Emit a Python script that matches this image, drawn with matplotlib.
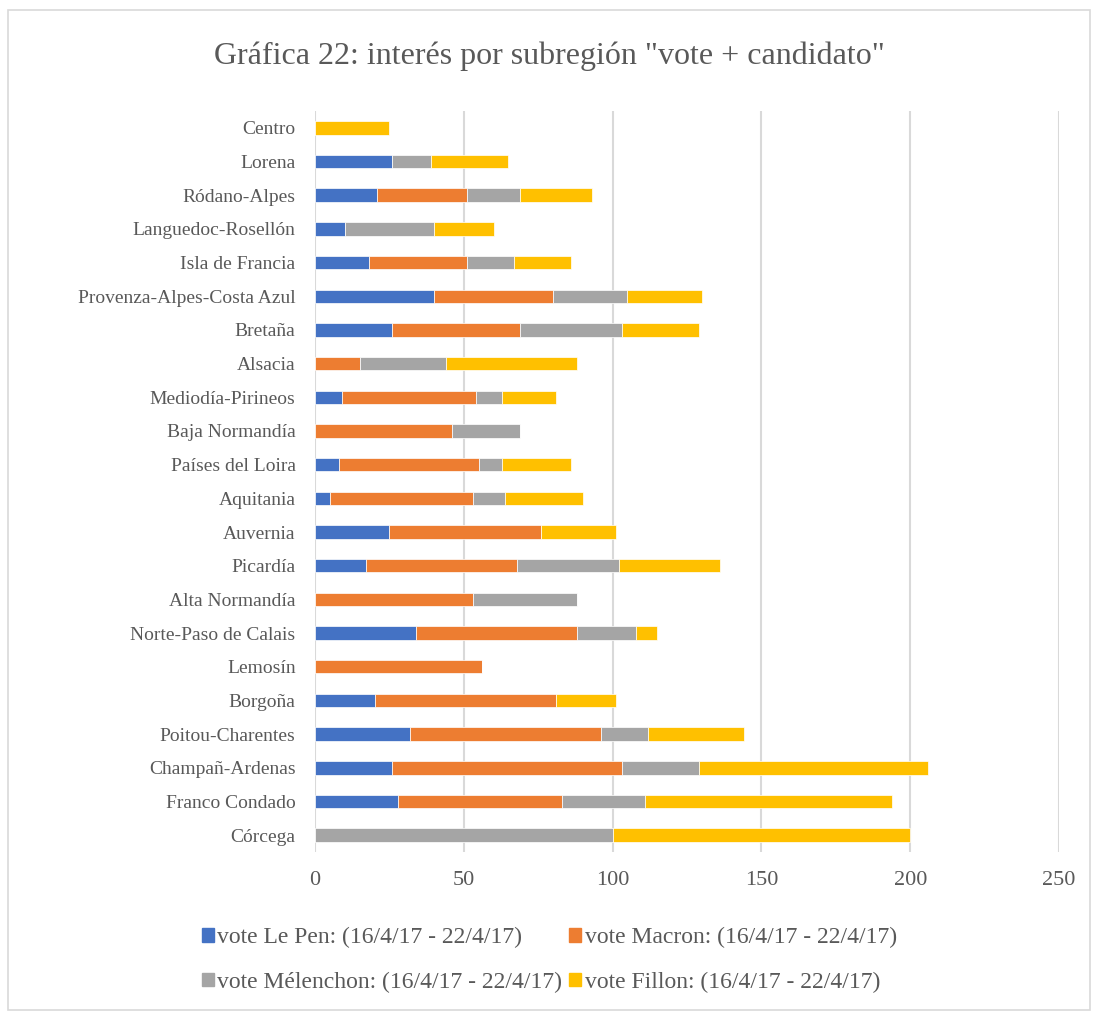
# matplotlib libraries
import matplotlib.pyplot as plt
from matplotlib.patches import Rectangle, Patch

######################################################################
# data (top to bottom as in the chart)
######################################################################

regions = ['Centro', 'Lorena', 'Ródano-Alpes', 'Languedoc-Rosellón', 'Isla de Francia',
           'Provenza-Alpes-Costa Azul', 'Bretaña', 'Alsacia', 'Mediodía-Pirineos',
           'Baja Normandía', 'Países del Loira', 'Aquitania', 'Auvernia', 'Picardía',
           'Alta Normandía', 'Norte-Paso de Calais', 'Lemosín', 'Borgoña',
           'Poitou-Charentes', 'Champañ-Ardenas', 'Franco Condado', 'Córcega']

le_pen    = [0, 26, 21, 10, 18, 40, 26, 0, 9, 0, 8, 5, 25, 17, 0, 34, 0, 20, 32, 26, 28, 0]
macron    = [0, 0, 30, 0, 33, 40, 43, 15, 45, 46, 47, 48, 51, 51, 53, 54, 56, 61, 64, 77, 55, 0]
melenchon = [0, 13, 18, 30, 16, 25, 34, 29, 9, 23, 8, 11, 0, 34, 35, 20, 0, 0, 16, 26, 28, 100]
fillon    = [25, 26, 24, 20, 19, 25, 26, 44, 18, 0, 23, 26, 25, 34, 0, 7, 0, 20, 32, 77, 83, 100]

series_names = ['vote Le Pen: (16/4/17 - 22/4/17)', 'vote Macron: (16/4/17 - 22/4/17)',
                'vote Mélenchon: (16/4/17 - 22/4/17)', 'vote Fillon: (16/4/17 - 22/4/17)']
colors = ['#4472C4', '#ED7D31', '#A5A5A5', '#FFC000']

xticks = [0, 50, 100, 150, 200, 250]
title = 'Gráfica 22: interés por subregión "vote + candidato"'

######################################################################
# plot
######################################################################

plt.rcParams['font.family'] = ['Liberation Serif', 'DejaVu Serif']
text_color = '#595959'

fig = plt.figure(figsize=(10.99, 10.16), dpi=100)
ax = fig.add_axes([315 / 1099, 1 - 852 / 1016, (1059 - 315) / 1099, (852 - 111) / 1016])

# chart border
fig.patches.append(Rectangle((8 / 1099, 6 / 1016), 1082 / 1099, 1000 / 1016,
                             transform=fig.transFigure, fill=False,
                             edgecolor='#D9D9D9', linewidth=1.2))

y = list(range(len(regions)))
left = [0] * len(regions)
for vals, color, name in zip([le_pen, macron, melenchon, fillon], colors, series_names):
    ax.barh(y, vals, left=left, height=0.4, color=color, edgecolor='white',
            linewidth=0.5, label=name, zorder=3)
    left = [a + b for a, b in zip(left, vals)]

ax.set_yticks(y)
ax.set_yticklabels(regions, fontsize=14, color=text_color)
ax.set_ylim(len(regions) - 0.5, -0.5)
ax.set_xlim(0, 250)
ax.set_xticks(xticks)
ax.set_xticklabels([str(t) for t in xticks], fontsize=16, color=text_color)
ax.tick_params(axis='x', length=0, pad=14)
ax.tick_params(axis='y', length=0, pad=14)
ax.grid(axis='x', color='#D9D9D9', linewidth=1.5, zorder=0)
for s in ax.spines.values():
    s.set_visible(False)

fig.text(0.5, 1 - 56 / 1016, title, ha='center', va='center', fontsize=23, color=text_color)

handles = [Patch(color=c) for c in colors]
order = [0, 2, 1, 3]
fig.legend([handles[i] for i in order], [series_names[i] for i in order],
           ncol=2, loc='center', bbox_to_anchor=(0.5, 1 - 960 / 1016),
           frameon=False, fontsize=17, labelcolor=text_color,
           handlelength=0.5, handleheight=0.5, handletextpad=0.15,
           columnspacing=0.3, labelspacing=1.0)

fig.savefig('out.png', dpi=100)
